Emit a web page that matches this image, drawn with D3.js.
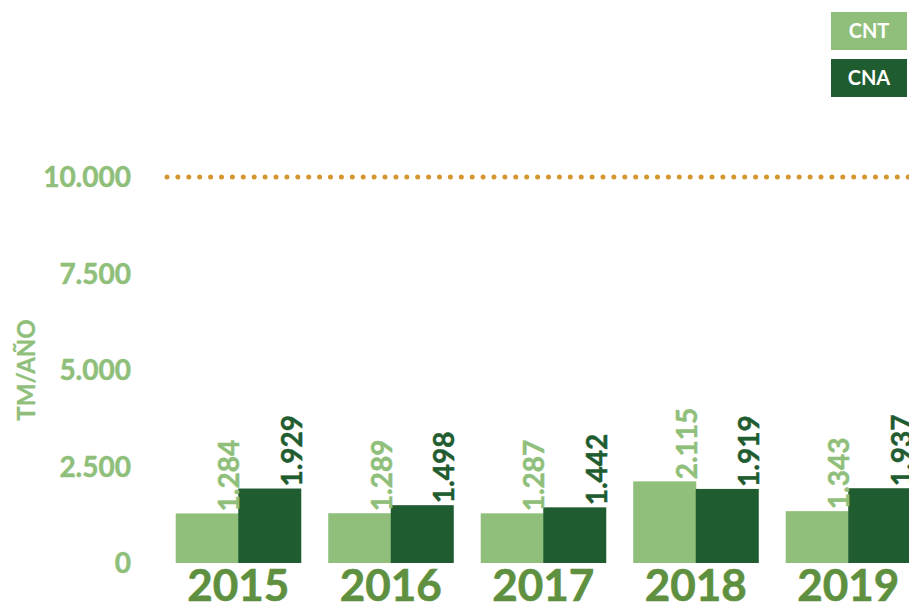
<!DOCTYPE html>
<html><head><meta charset="utf-8">
<script src="https://cdn.jsdelivr.net/npm/d3@7"></script>
<style>html,body{margin:0;padding:0;background:#fff;overflow:hidden}</style>
</head><body>
<svg id="c" width="909" height="610"></svg>
<script>
const years = ["2015","2016","2017","2018","2019"];
const seriesNames = ["CNT","CNA"];
const cnt = [1284,1289,1287,2115,1343];
const cna = [1929,1498,1442,1919,1937];
const yTicks = [0,2500,5000,7500,10000];
const refLine = 10000;

const colors = {CNT:"#8fbf7a", CNA:"#1f5c30"};
const svg = d3.select("#c");
const font = "Lato, 'Open Sans', sans-serif";

const x = d3.scaleBand().domain(years).range([162,924.5]).paddingInner(0.18).paddingOuter(0.09);
const xs = d3.scaleBand().domain(seriesNames).range([0,x.bandwidth()]);
const y = d3.scaleLinear().domain([0,10000]).range([563,177]);
const fmt = v => d3.format(",")(v).replace(/,/g,".");

// reference dotted line
svg.append("line").attr("x1",167).attr("x2",924).attr("y1",y(refLine)).attr("y2",y(refLine))
  .attr("stroke","#d4972f").attr("stroke-width",5).attr("stroke-linecap","round")
  .attr("stroke-dasharray","0 10.9");

// y axis
const yAxis = d3.axisLeft(y).tickValues(yTicks).tickFormat(fmt).tickSize(0).tickPadding(0);
const gy = svg.append("g").attr("transform","translate(131,0)").call(yAxis);
gy.select(".domain").remove();
gy.selectAll("text").attr("fill","#8fbf7a").attr("font-family",font).attr("font-weight","bold")
  .attr("font-size",28).attr("dy","0.35em")
  .attr("stroke","#8fbf7a").attr("stroke-width",0.5);

svg.append("text").attr("transform","translate(35,370) rotate(-90)").attr("text-anchor","middle")
  .attr("fill","#8fbf7a").attr("font-family",font).attr("font-weight","bold").attr("font-size",24)
  .attr("stroke","#8fbf7a").attr("stroke-width",0.3)
  .text("TM/AÑO");

// x axis
const xAxis = d3.axisBottom(x).tickSize(0).tickPadding(0);
const gx = svg.append("g").attr("transform","translate(0,570)").call(xAxis);
gx.select(".domain").remove();
gx.selectAll("text").attr("fill","#5e9040").attr("font-family",font).attr("font-weight","bold")
  .attr("font-size",44).attr("dy","0.71em")
  .attr("stroke","#5e9040").attr("stroke-width",0.6);

// bars
const data = years.map((yr,i)=>({year:yr, vals:[{s:"CNT",v:cnt[i]},{s:"CNA",v:cna[i]}]}));
const g = svg.selectAll("g.grp").data(data).join("g").attr("class","grp")
  .attr("transform",d=>`translate(${x(d.year)},0)`);
g.selectAll("rect").data(d=>d.vals).join("rect")
  .attr("x",d=>xs(d.s)).attr("width",xs.bandwidth()+0.5)
  .attr("y",d=>y(d.v)).attr("height",d=>y(0)-y(d.v)).attr("fill",d=>colors[d.s]);
g.selectAll("text.val").data(d=>d.vals).join("text").attr("class","val")
  .attr("transform",d=>`translate(${xs(d.s)+xs.bandwidth()+1},${y(d.v)-2}) rotate(-90)`)
  .attr("fill",d=>colors[d.s]).attr("font-family",font).attr("font-weight","bold").attr("font-size",28)
  .attr("stroke",d=>colors[d.s]).attr("stroke-width",0.5)
  .text(d=>fmt(d.v));

// legend
const lg = svg.append("g");
seriesNames.forEach((s,i)=>{
  lg.append("rect").attr("x",831).attr("y",12+i*47).attr("width",76).attr("height",38).attr("fill",colors[s]);
  lg.append("text").attr("x",869).attr("y",31+i*47).attr("dy","0.36em").attr("text-anchor","middle")
    .attr("fill","#fff").attr("font-family",font).attr("font-weight","bold").attr("font-size",20).text(s);
});
</script>
</body></html>
